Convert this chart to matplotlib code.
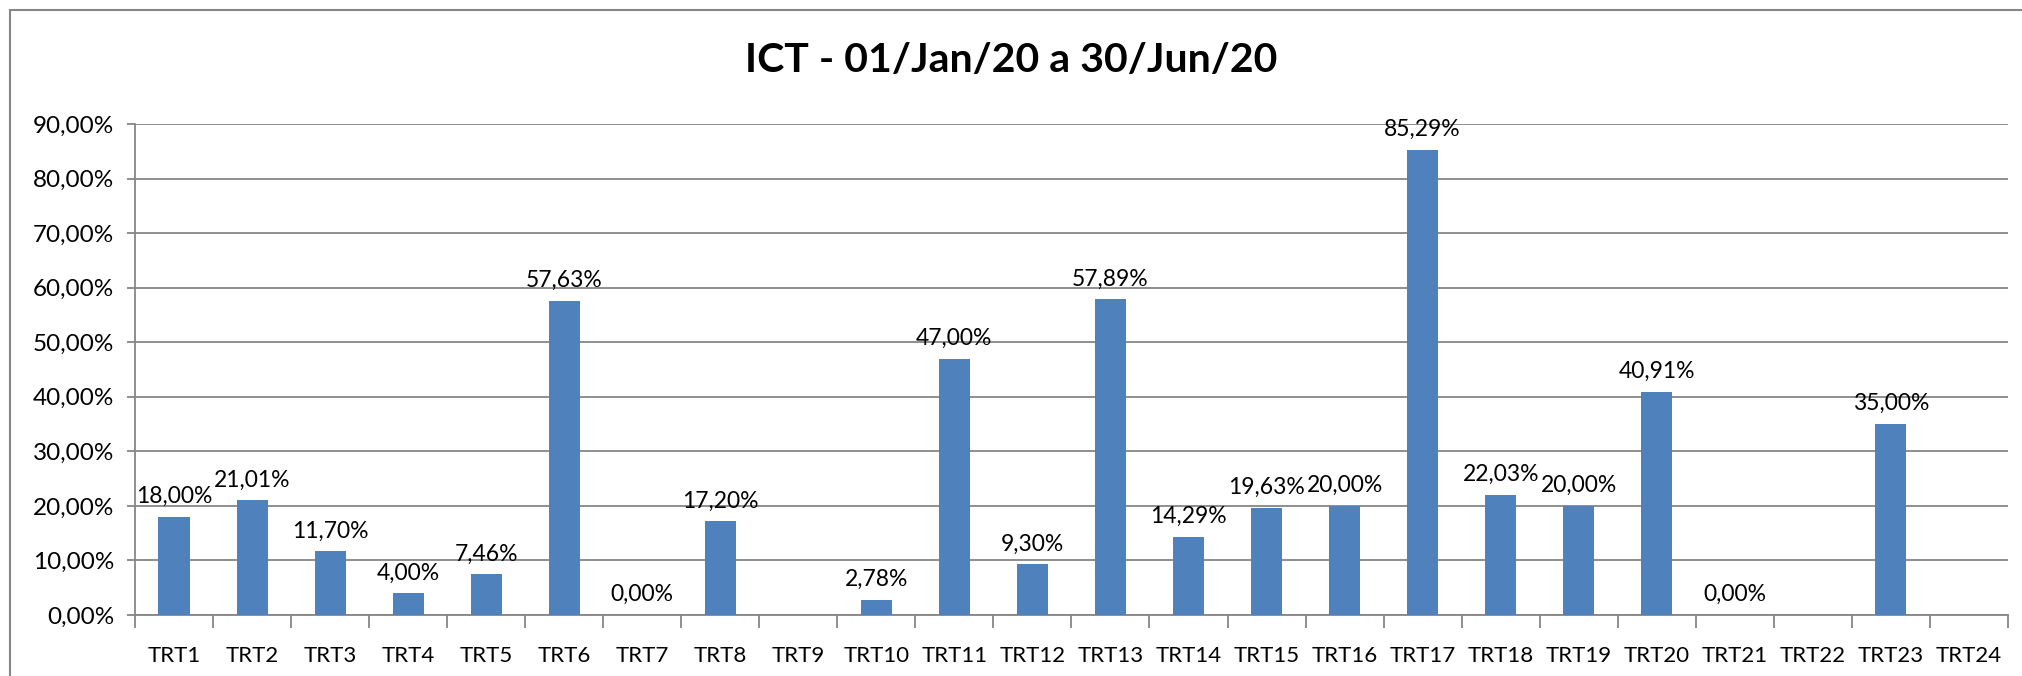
import matplotlib.pyplot as plt
from matplotlib.patches import Rectangle
from matplotlib.ticker import FuncFormatter, MultipleLocator
import numpy as np

plt.rcParams['font.family'] = ['Lato', 'DejaVu Sans']

categories = ["TRT%d" % i for i in range(1, 25)]
# None = sem dado (sem barra nem rótulo)
values = [18.00, 21.01, 11.70, 4.00, 7.46, 57.63, 0.00, 17.20, None, 2.78,
          47.00, 9.30, 57.89, 14.29, 19.63, 20.00, 85.29, 22.03, 20.00, 40.91,
          0.00, None, 35.00, None]
title = "ICT - 01/Jan/20 a 30/Jun/20"


def pct(v):
    return ("%.2f%%" % v).replace(".", ",")


fig = plt.figure(figsize=(20.22, 6.76), dpi=100)
ax = fig.add_axes([0.0668, 0.0902, 0.9262, 0.7264])

x = np.arange(len(categories))
h = [np.nan if v is None else v for v in values]
ax.bar(x, h, width=0.4, color="#4F81BD", zorder=3)

for xi, v in zip(x, values):
    if v is None:
        continue
    ax.annotate(pct(v), (xi, v), xytext=(0, 7), textcoords="offset points",
                ha="center", va="bottom", fontsize=16.5, color="black", zorder=4)

ax.set_xlim(-0.5, len(categories) - 0.5)
ax.set_ylim(0, 90)
ax.yaxis.set_major_locator(MultipleLocator(10))
ax.yaxis.set_major_formatter(FuncFormatter(lambda v, p: pct(v)))
ax.grid(axis="y", color="#868686", linewidth=1.3, zorder=0)

ax.set_xticks(x)
ax.set_xticklabels(categories)
ax.set_xticks(np.arange(len(categories) + 1) - 0.5, minor=True)
ax.tick_params(axis="x", which="major", length=0, pad=22, labelsize=16)
ax.tick_params(axis="x", which="minor", length=9, width=1.3, color="#868686")
ax.tick_params(axis="y", length=6, width=1.3, color="#868686", pad=9, labelsize=17.5)

for s in ["top", "right"]:
    ax.spines[s].set_visible(False)
for s in ["left", "bottom"]:
    ax.spines[s].set_color("#868686")
    ax.spines[s].set_linewidth(1.3)

fig.text(0.5, 0.91, title, ha="center", va="center", fontsize=29.5, fontweight="bold")

# moldura do gráfico
fig.patches.append(Rectangle((10 / 2022, -0.1), 1.2, 1.1 - 10 / 676,
                             transform=fig.transFigure, fill=False,
                             edgecolor="#868686", linewidth=1.5))

fig.savefig("out.png", dpi=100)
